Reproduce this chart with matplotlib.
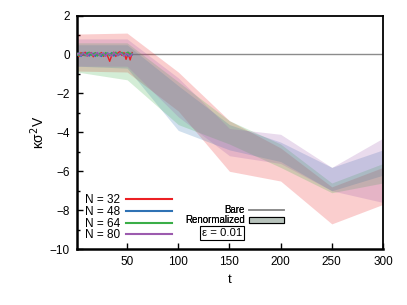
import matplotlib
matplotlib.use('Agg')
import matplotlib.pyplot as plt
from matplotlib.lines import Line2D
from matplotlib.patches import Patch
import numpy as np

plt.rcParams['font.family'] = ['Liberation Sans', 'DejaVu Sans']

# band nodes (renormalized results)
t_band = [1, 50, 100, 150, 200, 250, 300]
lo_32 = [-0.85, -0.9, -2.9, -6.0, -6.5, -8.7, -7.7]
hi_32 = [1.05, 1.1, -0.9, -3.4, -4.8, -6.8, -5.8]
lo_48 = [-0.6, -0.7, -3.9, -4.9, -5.5, -7.0, -6.2]
hi_48 = [0.5, 0.5, -1.6, -3.6, -4.5, -5.8, -4.9]
lo_64 = [-0.9, -1.3, -3.6, -4.6, -5.8, -7.1, -6.6]
hi_64 = [0.6, 0.6, -1.4, -3.4, -4.6, -6.6, -5.6]
lo_80 = [-0.6, -0.6, -3.2, -5.2, -5.6, -7.0, -7.6]
hi_80 = [0.8, 0.8, -1.2, -3.8, -4.1, -5.8, -4.3]

# bare data, short times
t_bare = [1, 3, 5, 7, 9, 11, 13, 15, 17, 19, 21, 23, 25, 27,
          29, 31, 33, 35, 37, 39, 41, 43, 45, 47, 49, 51, 53, 55]
bare_32 = [0.05, -0.1, 0.1, -0.05, 0.12, -0.08, 0.0, 0.1, -0.12, 0.08, -0.05, 0.02, 0.1, -0.1,
           0.05, -0.08, -0.35, -0.05, 0.12, -0.1, 0.08, 0.15, -0.05, 0.1, -0.25, 0.05, -0.28, 0.1]
bare_48 = [-0.05, 0.08, -0.1, 0.05, -0.06, 0.1, -0.08, 0.04, 0.06, -0.1, 0.08, -0.04, -0.1, 0.06,
           -0.05, 0.08, -0.02, 0.1, -0.08, 0.05, -0.06, 0.02, 0.1, -0.05, 0.04, -0.08, 0.06, -0.02]
bare_64 = [0.08, -0.05, 0.04, 0.1, -0.06, 0.05, 0.12, -0.04, 0.02, 0.1, -0.08, 0.06, 0.02, -0.05,
           0.1, 0.03, -0.06, 0.08, 0.0, 0.12, -0.04, 0.06, 0.1, -0.06, 0.08, 0.12, 0.02, 0.06]
bare_80 = [0.02, 0.06, -0.06, 0.1, 0.02, -0.08, 0.05, 0.08, -0.05, 0.02, 0.1, -0.06, 0.04, 0.08,
           -0.1, 0.06, 0.02, -0.08, 0.1, 0.0, -0.05, 0.08, 0.02, -0.1, 0.06, 0.0, -0.1, 0.04]

labels = ['N = 32', 'N = 48', 'N = 64', 'N = 80']
colors = ['#ec2024', '#2f72b4', '#3aae48', '#9c5bae']
lows = [lo_32, lo_48, lo_64, lo_80]
highs = [hi_32, hi_48, hi_64, hi_80]
bares = [bare_32, bare_48, bare_64, bare_80]

fig = plt.figure(figsize=(4.07, 3.05), dpi=100)
ax = fig.add_axes([0.189, 0.183, 0.752, 0.766])

ax.axhline(0, color='#8c8c8c', lw=1.0, zorder=1)

for lo, hi, c in zip(lows, highs, colors):
    ax.fill_between(t_band, lo, hi, color=c, alpha=0.22, lw=0, zorder=2)

for b, c in zip(bares, colors):
    ax.plot(t_bare, b, color=c, lw=1.0, zorder=3)

ax.set_xlim(1, 300)
ax.set_ylim(-10, 2)
ax.set_xticks([50, 100, 150, 200, 250, 300])
ax.set_yticks([-10, -8, -6, -4, -2, 0, 2])
ax.set_yticks([-9, -7, -5, -3, -1, 1], minor=True)
ax.tick_params(direction='in', length=4, width=1, labelsize=8.5, pad=5)
ax.tick_params(which='minor', direction='in', length=2.5, width=1)
for s in ax.spines.values():
    s.set_linewidth(1.3)
ax.spines['left'].set_linewidth(1.8)
ax.spines['bottom'].set_linewidth(1.8)

ax.set_xlabel('t', fontsize=9.5, labelpad=4)
ax.set_ylabel(r'κσ$^2$V', fontsize=10, labelpad=2)

handles = [Line2D([], [], color=c, lw=1.5) for c in colors]
leg1 = ax.legend(handles, labels, loc='lower left', bbox_to_anchor=(0.01, 0.013),
                 markerfirst=False, frameon=False, fontsize=8.5, handlelength=3.9,
                 handletextpad=0.5, labelspacing=-0.02, borderaxespad=0)
ax.add_artist(leg1)

h2 = [Line2D([], [], color='#8c8c8c', lw=1.2),
      Patch(facecolor='#b7c2bb', edgecolor='black', lw=0.8)]
leg2 = ax.legend(h2, ['Bare', 'Renormalized'], loc='lower left', bbox_to_anchor=(0.34, 0.085),
                 markerfirst=False, frameon=False, fontsize=7, handlelength=3.7,
                 handleheight=0.6, handletextpad=0.4, labelspacing=0.0, borderaxespad=0)
ax.add_artist(leg2)

ax.text(0.473, 0.068, 'ε = 0.01', transform=ax.transAxes, fontsize=8.2, ha='center', va='center',
        bbox=dict(boxstyle='square,pad=0.18', facecolor='white', edgecolor='black', lw=0.8))

fig.savefig('out.png', dpi=100)
